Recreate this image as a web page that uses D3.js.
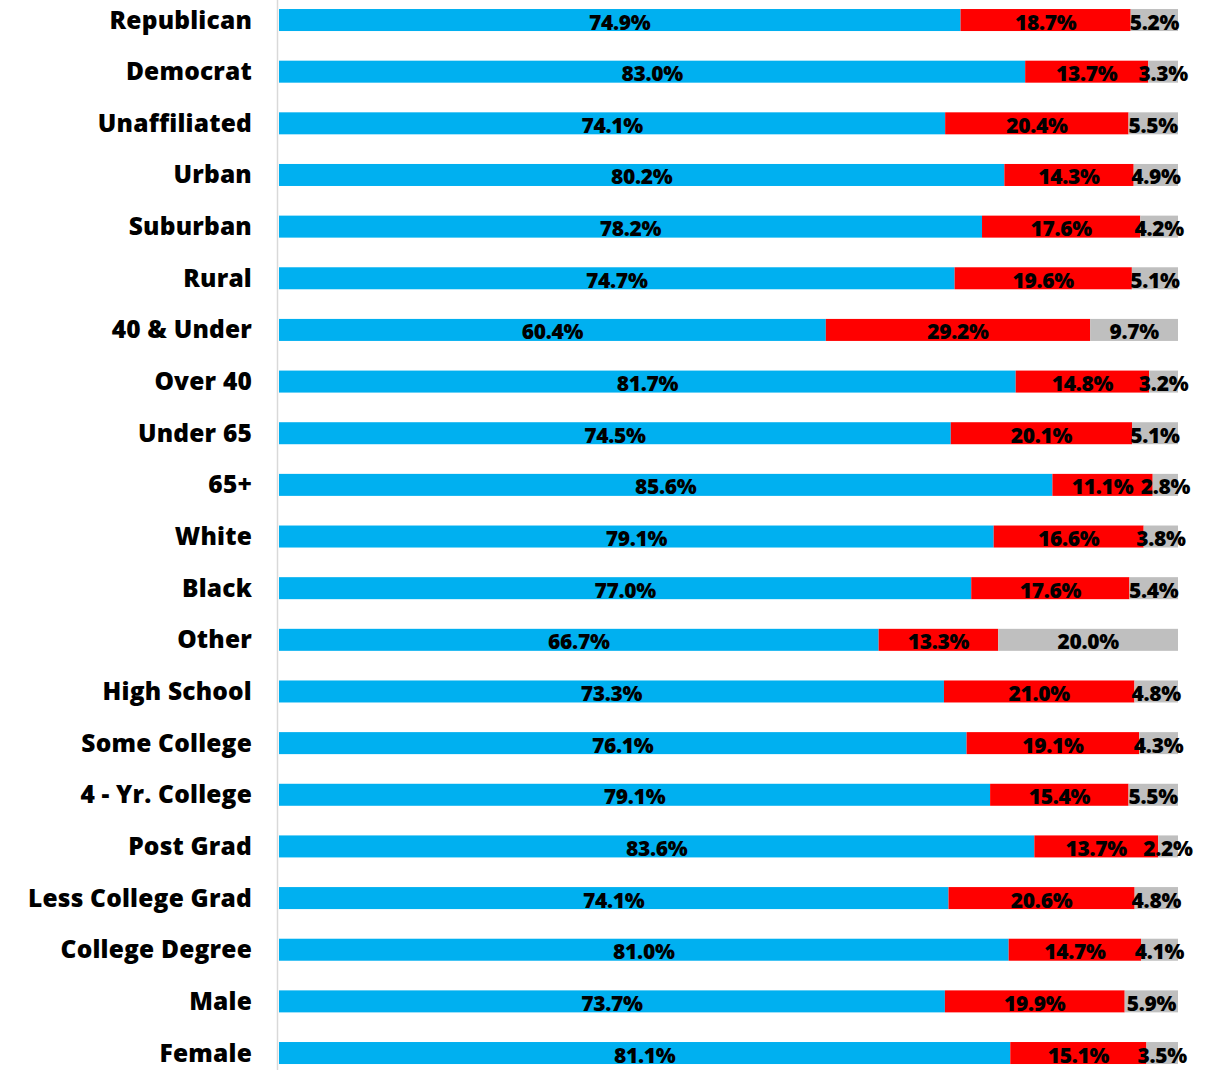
<!DOCTYPE html>
<html>
<head>
<meta charset="utf-8">
<script src="https://cdn.jsdelivr.net/npm/d3@7"></script>
<style>
  body { margin: 0; background: #fff; }
  svg text { font-family: "Open Sans", sans-serif; font-weight: 800; }
</style>
</head>
<body>
<div id="chart"></div>
<script>
// Categories, top to bottom
const categories = ['Republican', 'Democrat', 'Unaffiliated', 'Urban', 'Suburban', 'Rural',
  '40 & Under', 'Over 40', 'Under 65', '65+', 'White', 'Black', 'Other', 'High School',
  'Some College', '4 - Yr. College', 'Post Grad', 'Less College Grad', 'College Degree',
  'Male', 'Female'];

// Series values (percent)
const blueVals = [74.9, 83.0, 74.1, 80.2, 78.2, 74.7, 60.4, 81.7, 74.5, 85.6, 79.1, 77.0, 66.7,
  73.3, 76.1, 79.1, 83.6, 74.1, 81.0, 73.7, 81.1];
const redVals = [18.7, 13.7, 20.4, 14.3, 17.6, 19.6, 29.2, 14.8, 20.1, 11.1, 16.6, 17.6, 13.3,
  21.0, 19.1, 15.4, 13.7, 20.6, 14.7, 19.9, 15.1];
const grayVals = [5.2, 3.3, 5.5, 4.9, 4.2, 5.1, 9.7, 3.2, 5.1, 2.8, 3.8, 5.4, 20.0,
  4.8, 4.3, 5.5, 2.2, 4.8, 4.1, 5.9, 3.5];

const seriesKeys = ['blue', 'red', 'gray'];
const colors = {blue: '#00B0F0', red: '#FF0000', gray: '#BFBFBF'};

// Build table for the stack (normalised to 100%)
let rows = categories.map((c, i) => ({
  cat: c, blue: blueVals[i], red: redVals[i], gray: grayVals[i]
}));

let width = 1217, height = 1070;
let svg = d3.select('#chart').append('svg')
  .attr('width', width)
  .attr('height', height);

let step = 51.65;
let y = d3.scaleBand()
  .domain(categories)
  .range([-5.8, -5.8 + categories.length * step])
  .paddingInner(0.574)
  .paddingOuter(0.287);

let x = d3.scaleLinear()
  .domain([0, 1])
  .range([279, 1178]);

let stack = d3.stack().keys(seriesKeys).offset(d3.stackOffsetExpand);
let stacked = stack(rows);

// Bars
let groups = svg.selectAll('g.series')
  .data(stacked)
  .enter()
  .append('g')
  .attr('class', 'series')
  .attr('fill', d => colors[d.key]);

groups.selectAll('rect')
  .data(d => d)
  .enter()
  .append('rect')
  .attr('x', d => x(d[0]))
  .attr('width', d => x(d[1]) - x(d[0]))
  .attr('y', d => y(d.data.cat))
  .attr('height', y.bandwidth());

// Value labels
stacked.forEach(s => {
  svg.append('g').selectAll('text')
    .data(s)
    .enter()
    .append('text')
    .attr('x', d => (x(d[0]) + x(d[1])) / 2)
    .attr('y', d => y(d.data.cat) + y.bandwidth() / 2 + 9.5)
    .attr('text-anchor', 'middle')
    .attr('font-size', 21)
    .attr('letter-spacing', -0.3)
    .attr('fill', '#000')
    .text(d => d.data[s.key].toFixed(1) + '%');
});

// Vertical axis line
svg.append('line')
  .attr('x1', 277.5).attr('x2', 277.5)
  .attr('y1', 0).attr('y2', height)
  .attr('stroke', '#D9D9D9')
  .attr('stroke-width', 1.5);

// Category labels
let yAxis = d3.axisLeft(y).tickSize(0).tickPadding(0);
let ag = svg.append('g')
  .attr('transform', 'translate(252,0)')
  .call(yAxis);
ag.select('.domain').remove();
ag.selectAll('text')
  .attr('font-size', 24.5)
  .attr('letter-spacing', 0.2)
  .attr('fill', '#000')
  .attr('dy', null)
  .attr('y', 8.5)
  .style('font-family', '"Open Sans", sans-serif')
  .style('font-weight', 800);
</script>
</body>
</html>
